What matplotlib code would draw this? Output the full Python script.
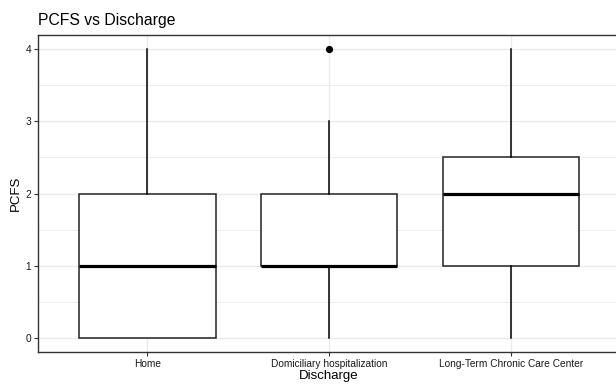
import matplotlib
matplotlib.use("Agg")
import matplotlib.pyplot as plt
import numpy as np

plt.rcParams['font.family'] = ['Liberation Sans', 'DejaVu Sans']

# box statistics
categories = ['Home', 'Domiciliary hospitalization', 'Long-Term Chronic Care Center']
q1 = [0, 1, 1]
med = [1, 1, 2]
q3 = [2, 2, 2.5]
whislo = [0, 0, 0]
whishi = [4, 3, 4]
fliers = [[], [4], []]

stats = []
for i in range(len(categories)):
    stats.append({'label': categories[i], 'q1': q1[i], 'med': med[i], 'q3': q3[i],
                  'whislo': whislo[i], 'whishi': whishi[i], 'fliers': fliers[i]})

fig = plt.figure(figsize=(6.16, 3.84), dpi=100)
# panel runs past the right edge of the picture, as in the reference
ax = fig.add_axes([38.3 / 616, 32 / 384, (620 - 38.3) / 616, (352 - 35) / 384])

pos = np.arange(1, len(categories) + 1)
ax.bxp(stats, positions=pos, widths=0.75, showcaps=False, patch_artist=True,
       boxprops=dict(facecolor='white', edgecolor='#222222', linewidth=1.1),
       medianprops=dict(color='black', linewidth=2.3, solid_capstyle='butt'),
       whiskerprops=dict(color='black', linewidth=1.1),
       flierprops=dict(marker='o', markerfacecolor='black', markeredgecolor='black',
                       markersize=4.2), zorder=3)

ax.set_xlim(0.4, 3.6)
ax.set_ylim(-0.2, 4.2)
ax.set_yticks([0, 1, 2, 3, 4])
ax.set_yticks([0.5, 1.5, 2.5, 3.5], minor=True)
ax.set_xticks(pos)
ax.set_xticklabels(categories)

ax.grid(True, which='major', color='#EBEBEB', linewidth=1.0, zorder=0)
ax.grid(True, which='minor', axis='y', color='#EBEBEB', linewidth=0.6, zorder=0)
ax.set_axisbelow(True)

for s in ax.spines.values():
    s.set_color('#333333')
    s.set_linewidth(1.0)

ax.tick_params(which='major', length=3, width=0.8, color='#333333',
               labelsize=7.3, labelcolor='#1A1A1A', pad=2)
ax.tick_params(which='minor', length=0)

ax.set_xlabel('Discharge', fontsize=9.5, labelpad=1)
ax.set_ylabel('PCFS', fontsize=9.5, labelpad=3)
fig.text(38.3 / 616, 1 - 25 / 384, 'PCFS vs Discharge', fontsize=11.3, ha='left', va='baseline')

fig.savefig('out.png', dpi=100)
